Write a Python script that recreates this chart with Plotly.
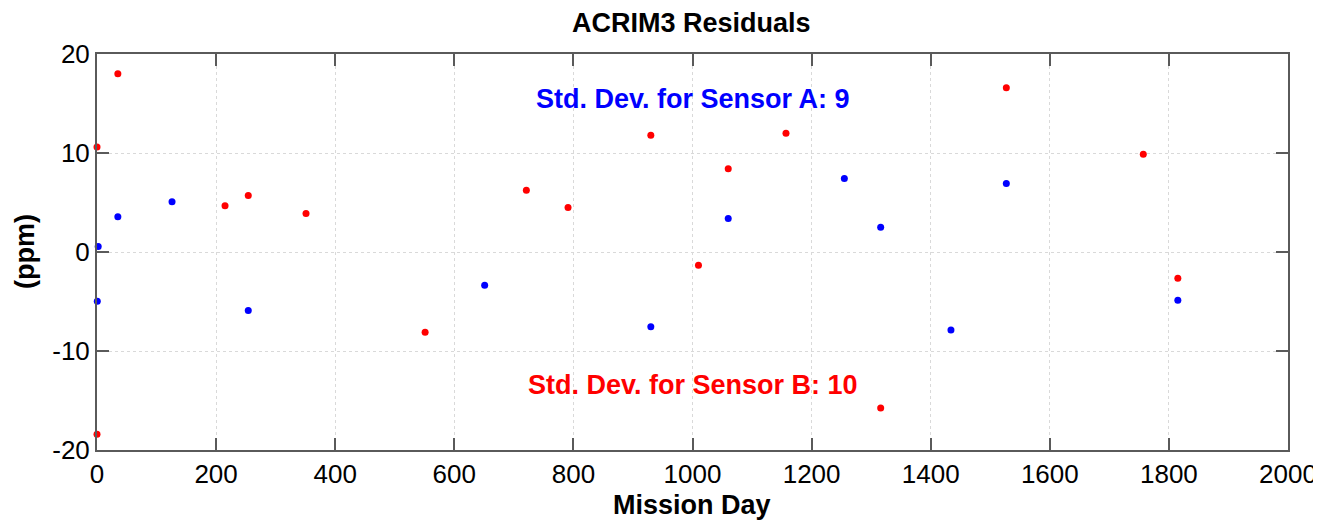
import plotly.graph_objects as go

# Sensor A (blue) residuals
day_a = [2, 35, 126, 0.5, 254, 651, 930, 1060, 1255, 1316, 1434, 1527, 1815]
res_a = [0.55, 3.56, 5.07, -4.97, -5.9, -3.36, -7.56, 3.39, 7.42, 2.49, -7.89, 6.92, -4.87]

# Sensor B (red) residuals
day_b = [0, 35, 0, 215, 254, 351, 551, 721, 791, 930, 1010, 1060, 1157, 1316, 1527, 1757, 1815]
res_b = [10.6, 18.0, -18.4, 4.67, 5.7, 3.9, -8.1, 6.25, 4.5, 11.8, -1.35, 8.4, 12.0, -15.75, 16.6, 9.87, -2.65]

x_ticks = [0, 200, 400, 600, 800, 1000, 1200, 1400, 1600, 1800, 2000]
y_ticks = [-20, -10, 0, 10, 20]
y_tick_text = ["-20", "-10", "0", "10", "20"]

title = "ACRIM3 Residuals"
x_label = "Mission Day"
y_label = "(ppm)"
label_a = "Std. Dev. for Sensor A: 9"
label_b = "Std. Dev. for Sensor B: 10"

FONT = "Liberation Sans, Arial, Helvetica, sans-serif"
OFF = 8  # default page body margin offsets the figure
W, H = 1321 - OFF, 520 - OFF
ML, MR, MT, MB = 97 - OFF, 33, 54 - OFF, 70
PW, PH = W - ML - MR, H - MT - MB
PL, PT, PB = ML + OFF, MT + OFF, MT + OFF + PH  # plot edges in screen pixels

fig = go.Figure()
fig.add_trace(go.Scatter(x=day_b, y=res_b, mode="markers",
                         marker=dict(color="#ff0000", size=7, line=dict(width=0)),
                         cliponaxis=False, showlegend=False))
fig.add_trace(go.Scatter(x=day_a, y=res_a, mode="markers",
                         marker=dict(color="#0000ff", size=7, line=dict(width=0)),
                         cliponaxis=False, showlegend=False))

fig.add_annotation(x=1000, y=15.5, xref="x", yref="y", text="<b>" + label_a + "</b>",
                   showarrow=False, font=dict(family=FONT, size=27, color="#0000ff"))
fig.add_annotation(x=1000, y=-13.4, xref="x", yref="y", text="<b>" + label_b + "</b>",
                   showarrow=False, font=dict(family=FONT, size=27, color="#ff0000"))

# title and axis titles
fig.add_annotation(x=(691.5 - PL) / PW, y=1 + (PT - 23) / PH, xref="paper", yref="paper",
                   text="<b>" + title + "</b>", showarrow=False, xanchor="center", yanchor="middle",
                   font=dict(family=FONT, size=27, color="#000000"))
fig.add_annotation(x=(692 - PL) / PW, y=-(505 - PB) / PH, xref="paper", yref="paper",
                   text="<b>" + x_label + "</b>", showarrow=False, xanchor="center", yanchor="middle",
                   font=dict(family=FONT, size=27, color="#000000"))
fig.add_annotation(x=(25 - PL) / PW, y=0.5, xref="paper", yref="paper", textangle=-90,
                   text="<b>" + y_label + "</b>", showarrow=False, xanchor="center", yanchor="middle",
                   font=dict(family=FONT, size=27, color="#000000"))

axis_common = dict(
    showline=True, linecolor="#5a5a5a", linewidth=2, mirror="ticks",
    ticks="inside", ticklen=12, tickwidth=2, tickcolor="#5a5a5a",
    showgrid=True, gridcolor="#d9d9d9", gridwidth=1, griddash="dot",
    zeroline=False, automargin=False,
    tickfont=dict(family=FONT, size=26, color="#000000"),
)

fig.update_layout(
    width=W, height=H,
    margin=dict(l=ML, r=MR, t=MT, b=MB, autoexpand=False),
    paper_bgcolor="white", plot_bgcolor="white",
    xaxis=dict(range=[0, 2000], tickvals=x_ticks, ticklabelstandoff=0, **axis_common),
    yaxis=dict(range=[-20, 20], tickvals=y_ticks, ticktext=y_tick_text, **axis_common),
)

fig.write_html("out.html")
